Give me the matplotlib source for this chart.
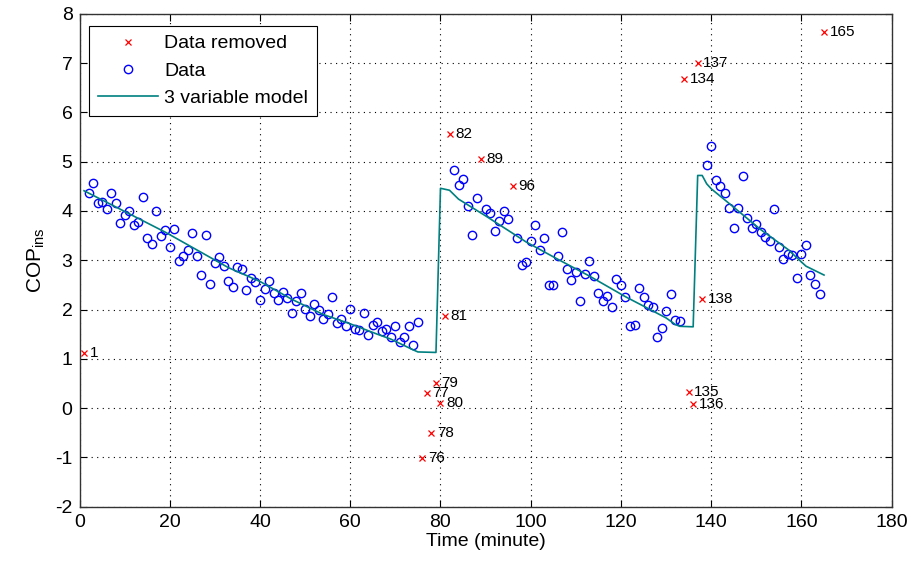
import matplotlib
matplotlib.use('Agg')
import matplotlib.pyplot as plt

plt.rcParams['font.family'] = ['Liberation Sans', 'DejaVu Sans']
plt.rcParams['mathtext.fontset'] = 'custom'
plt.rcParams['mathtext.rm'] = 'Liberation Sans'
plt.rcParams['axes.unicode_minus'] = False

# measured COP values (circles)
data_t = list(range(2, 76)) + [83, 84, 85, 86, 87, 88, 90, 91, 92, 93, 94, 95] + \
    list(range(97, 134)) + list(range(139, 165))
data_v = [4.37, 4.57, 4.16, 4.18, 4.04, 4.37, 4.16, 3.75, 3.92, 4.00,
          3.71, 3.77, 4.28, 3.46, 3.33, 4.00, 3.50, 3.61, 3.26, 3.63,
          2.99, 3.09, 3.21, 3.56, 3.09, 2.71, 3.51, 2.51, 2.95, 3.07,
          2.88, 2.58, 2.46, 2.87, 2.83, 2.39, 2.63, 2.56, 2.19, 2.41,
          2.57, 2.33, 2.19, 2.35, 2.24, 1.93, 2.17, 2.34, 2.01, 1.86,
          2.12, 2.00, 1.80, 1.90, 2.26, 1.73, 1.81, 1.66, 2.01, 1.61,
          1.58, 1.93, 1.49, 1.68, 1.74, 1.56, 1.61, 1.44, 1.67, 1.35,
          1.44, 1.67, 1.28, 1.74,
          4.84, 4.53, 4.65, 4.10, 3.51, 4.27, 4.04, 3.96, 3.60, 3.80,
          4.00, 3.84,
          3.46, 2.90, 2.97, 3.40, 3.71, 3.21, 3.45, 2.49, 2.49, 3.09,
          3.58, 2.82, 2.60, 2.76, 2.17, 2.73, 2.99, 2.69, 2.34, 2.17,
          2.27, 2.06, 2.61, 2.49, 2.26, 1.67, 1.69, 2.44, 2.26, 2.10,
          2.06, 1.44, 1.63, 1.97, 2.31, 1.78, 1.76,
          4.94, 5.32, 4.62, 4.50, 4.37, 4.05, 3.66, 4.07, 4.71, 3.86,
          3.66, 3.73, 3.58, 3.47, 3.40, 4.04, 3.26, 3.03, 3.12, 3.10,
          2.64, 3.12, 3.31, 2.70, 2.51, 2.31]

# removed outliers
removed_t = [1, 76, 77, 78, 79, 80, 81, 82, 89, 96, 134, 135, 136, 137, 138, 165]
removed_v = [1.11, -1.02, 0.31, -0.50, 0.52, 0.11, 1.86, 5.57, 5.06, 4.50,
             6.67, 0.32, 0.09, 7.00, 2.22, 7.63]

# 3 variable model
model_t = [1, 19, 33, 40, 47, 54, 60, 66, 69, 74, 75, 79, 80, 82, 84, 90,
           99, 106, 113, 121, 125, 130, 132, 133, 136, 137, 138, 139, 140,
           144, 151, 157, 161, 165]
model_v = [4.41, 3.57, 2.85, 2.57, 2.21, 1.90, 1.71, 1.50, 1.40, 1.18, 1.14,
           1.13, 4.46, 4.42, 4.24, 3.90, 3.37, 3.02, 2.68, 2.26, 2.07, 1.83,
           1.70, 1.66, 1.65, 4.72, 4.72, 4.55, 4.45, 4.15, 3.62, 3.22, 2.88,
           2.70]

fig = plt.figure(figsize=(9.14, 5.67), dpi=100)
ax = fig.add_axes([0.087, 0.1063, 0.8886, 0.8694])

ax.plot(removed_t, removed_v, 'x', color='red', markersize=5, mew=0.9,
        label='Data removed')
ax.plot(data_t, data_v, 'o', mfc='none', mec='blue', markersize=6, mew=1.0,
        label='Data')
ax.plot(model_t, model_v, '-', color=(0.0, 0.5, 0.5), lw=1.2,
        label='3 variable model')

for t, v in zip(removed_t, removed_v):
    ax.annotate(str(t), (t, v), xytext=(4, 0), textcoords='offset points',
                va='center', ha='left', fontsize=11)

ax.set_xlim(0, 180)
ax.set_ylim(-2, 8)
ax.set_xticks(range(0, 181, 20))
ax.set_yticks(range(-2, 9))
ax.tick_params(direction='in', length=5, width=0.8, top=True, right=True,
               labelsize=14, pad=5)
ax.grid(True, color='black', linestyle=(0, (1, 4)), linewidth=0.8)
for s in ax.spines.values():
    s.set_linewidth(1.0)
    s.set_color('#333333')

ax.set_xlabel('Time (minute)', fontsize=14, labelpad=2)
ax.set_ylabel(r'$\mathrm{COP}_{\mathrm{ins}}$', fontsize=15, labelpad=6)

leg = ax.legend(loc='upper left', bbox_to_anchor=(0.012, 0.975),
                borderaxespad=0, fontsize=14, numpoints=1, handlelength=3.1,
                handletextpad=0.3, labelspacing=0.5, borderpad=0.45,
                fancybox=False, framealpha=1, edgecolor='black')
leg.get_frame().set_linewidth(0.8)

fig.savefig('out.png', dpi=100)
